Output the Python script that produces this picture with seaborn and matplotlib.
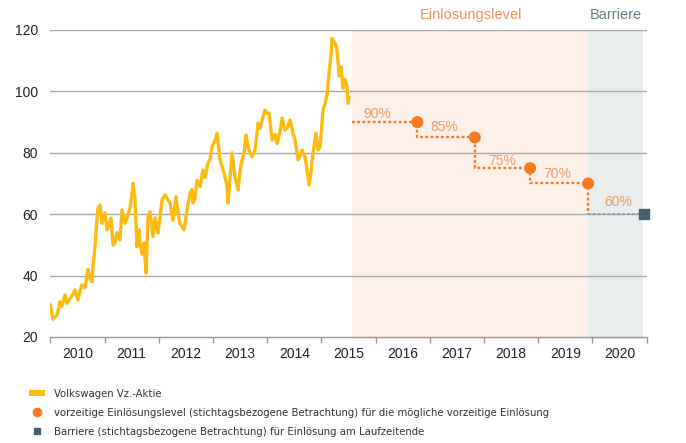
import numpy as np
import matplotlib
matplotlib.use("Agg")
import matplotlib.pyplot as plt
import seaborn as sns
from matplotlib.patches import Patch
from matplotlib.lines import Line2D
from matplotlib.transforms import blended_transform_factory
from matplotlib import font_manager

# Kursverlauf Volkswagen Vz.-Aktie (Jahresbruchteile, Kurs in EUR)
kurs_zeit = [
    2010.000, 2010.013, 2010.050, 2010.087, 2010.124, 2010.179, 2010.216, 2010.271, 2010.308, 2010.363,
    2010.419, 2010.456, 2010.511, 2010.548, 2010.585, 2010.640, 2010.695, 2010.732, 2010.769, 2010.788,
    2010.825, 2010.862, 2010.880, 2010.917, 2010.954, 2011.009, 2011.046, 2011.065, 2011.120, 2011.157,
    2011.194, 2011.231, 2011.286, 2011.323, 2011.379, 2011.434, 2011.470, 2011.507, 2011.526, 2011.563,
    2011.600, 2011.637, 2011.655, 2011.692, 2011.729, 2011.766, 2011.803, 2011.839, 2011.895, 2011.932,
    2011.987, 2012.024, 2012.061, 2012.116, 2012.172, 2012.209, 2012.264, 2012.319, 2012.356, 2012.393,
    2012.467, 2012.522, 2012.578, 2012.615, 2012.633, 2012.670, 2012.707, 2012.762, 2012.818, 2012.855,
    2012.910, 2012.947, 2012.984, 2013.039, 2013.076, 2013.131, 2013.187, 2013.224, 2013.261, 2013.279,
    2013.316, 2013.353, 2013.408, 2013.463, 2013.500, 2013.537, 2013.574, 2013.611, 2013.648, 2013.685,
    2013.722, 2013.777, 2013.832, 2013.869, 2013.906, 2013.962, 2013.999, 2014.035, 2014.091, 2014.146,
    2014.183, 2014.238, 2014.275, 2014.330, 2014.367, 2014.423, 2014.478, 2014.515, 2014.570, 2014.607,
    2014.644, 2014.699, 2014.718, 2014.773, 2014.810, 2014.847, 2014.902, 2014.939, 2014.976, 2015.031,
    2015.068, 2015.105, 2015.142, 2015.179, 2015.197, 2015.234, 2015.253, 2015.290, 2015.327, 2015.364,
    2015.400, 2015.437, 2015.474, 2015.493, 2015.511,
]
kurs_wert = [
    30.5, 29.0, 25.8, 26.6, 27.0, 31.5, 30.0, 33.7, 31.0, 32.5,
    34.0, 35.3, 32.0, 35.0, 37.0, 36.0, 42.0, 39.0, 38.0, 43.0,
    49.4, 58.8, 62.0, 63.0, 57.0, 60.4, 54.9, 55.5, 58.7, 50.0,
    50.6, 54.0, 51.6, 61.4, 57.0, 59.7, 62.0, 66.8, 70.0, 64.6,
    49.4, 54.9, 50.6, 47.0, 50.6, 40.8, 59.2, 60.8, 52.7, 58.8,
    53.9, 59.0, 64.6, 66.3, 64.6, 63.6, 58.0, 65.7, 60.0, 57.0,
    54.9, 61.4, 66.8, 68.0, 63.6, 65.3, 71.0, 69.0, 74.4, 72.0,
    76.7, 78.0, 82.0, 84.0, 86.4, 77.7, 74.4, 72.0, 69.0, 63.6,
    72.0, 80.0, 72.2, 67.9, 74.0, 77.7, 80.0, 85.8, 82.0, 80.0,
    78.7, 80.9, 89.7, 88.0, 90.7, 93.9, 92.9, 92.9, 84.2, 86.0,
    83.0, 87.0, 91.3, 87.4, 88.0, 90.7, 86.4, 84.2, 77.7, 79.0,
    80.9, 78.7, 76.7, 69.5, 74.0, 80.0, 86.4, 80.9, 82.0, 94.0,
    96.0, 99.0, 106.0, 112.0, 117.3, 116.0, 115.7, 113.5, 105.0, 108.0,
    101.0, 104.0, 101.5, 96.1, 98.0,
]

# Einlösungslevel und Barriere
start_level = 2015.57
stichtage = [2016.77, 2017.83, 2018.85, 2019.92]
level_wert = [90, 85, 75, 70]
level_text = ["90%", "85%", "75%", "70%"]
barriere_tag = 2020.95
barriere_wert = 60
barriere_text = "60%"
laufzeit_ende = 2020.93

jahre = list(range(2010, 2021))

GELB = "#FDBB12"
ORANGE = "#F47B20"
ORANGE_HELL = "#F29A62"
SCHIEFER = "#44606E"
GRAU_TXT = "#6B7E88"
PFIRSICH = "#FDF0E8"
HELLGRAU = "#E9EDEE"

sns.set_theme(style="white")
plt.rcParams["font.family"] = ["Liberation Sans", "DejaVu Sans"]

# schmale, aufrechte Schrift für die Legende, falls vorhanden
schmal = [f for f in font_manager.fontManager.ttflist
          if f.name == "DejaVu Sans" and f.stretch == "condensed"
          and f.style == "normal" and f.weight in (400, "normal", "regular", "book")]
if schmal:
    leg_prop = font_manager.FontProperties(fname=schmal[0].fname, size=8.1)
else:
    leg_prop = {"family": "Liberation Sans", "size": 8}

fig = plt.figure(figsize=(6.86, 4.43), dpi=100)
ax = fig.add_axes([0.0733, 0.2393, 0.8694, 0.6930])

# Hintergrundbereiche
ax.axvspan(start_level, stichtage[-1], ymin=-0.008, color=PFIRSICH, lw=0, zorder=0, clip_on=False)
ax.axvspan(stichtage[-1], laufzeit_ende, ymin=-0.008, color=HELLGRAU, lw=0, zorder=0, clip_on=False)

for y in [40, 60, 80, 100, 120]:
    ax.axhline(y, color="#A8A8A8", lw=1, zorder=1)

sns.lineplot(x=kurs_zeit, y=kurs_wert, ax=ax, color=GELB, lw=2.4, zorder=3)

# Treppenlinie der Einlösungslevel
tx = [start_level]
ty = [level_wert[0]]
for i, d in enumerate(stichtage):
    tx += [d]
    ty += [level_wert[i]]
    nxt = level_wert[i + 1] if i + 1 < len(level_wert) else barriere_wert
    tx += [d]
    ty += [nxt]
ax.plot(tx, ty, color=ORANGE, lw=1.7, ls=(0, (1.2, 1.0)), zorder=4)
ax.plot([stichtage[-1], barriere_tag], [barriere_wert, barriere_wert],
        color="#8C9CA5", lw=1.3, ls=(0, (1.5, 1.2)), zorder=4)

sns.scatterplot(x=stichtage, y=level_wert, ax=ax, color=ORANGE, s=75, edgecolor="none", zorder=5)
ax.plot([barriere_tag], [barriere_wert], marker="s", ms=7, color=SCHIEFER, clip_on=False, zorder=5)

# Prozentangaben
text_x = [2016.03, 2017.26, 2018.33, 2019.34]
text_y = [92.7, 88.4, 77.3, 73.1]
for x, y, t in zip(text_x, text_y, level_text):
    ax.text(x, y, t, color=ORANGE_HELL, fontsize=10, ha="center", va="center", zorder=6)
ax.text(2020.47, 64.0, barriere_text, color=ORANGE_HELL, fontsize=10, ha="center", va="center", zorder=6)

trans = blended_transform_factory(ax.transData, ax.transAxes)
ax.text((start_level + stichtage[-1]) / 2 + 0.02, 1.049, "Einlösungslevel", transform=trans,
        color="#F0905A", fontsize=10.5, ha="center", va="center")
ax.text((stichtage[-1] + laufzeit_ende) / 2, 1.049, "Barriere", transform=trans,
        color=GRAU_TXT, fontsize=10.5, ha="center", va="center")

# Achsen
ax.set_xlim(2010, 2021)
ax.set_ylim(20, 120)
ax.set_xticks(range(2010, 2022))
ax.set_xticklabels([])
ax.set_xticks([j + 0.5 for j in jahre], minor=True)
ax.set_xticklabels([str(j) for j in jahre], minor=True)
ax.tick_params(axis="x", which="major", bottom=True, length=4, width=1, color="#999999", direction="out")
ax.tick_params(axis="x", which="minor", bottom=True, length=0, pad=7, labelsize=10, labelcolor="#222222")
ax.set_yticks([20, 40, 60, 80, 100, 120])
ax.tick_params(axis="y", length=0, pad=9, labelsize=10, labelcolor="#222222")
for s in ["left", "top", "right"]:
    ax.spines[s].set_visible(False)
ax.spines["bottom"].set_color("#999999")
ax.spines["bottom"].set_linewidth(1)
ax.set_xlabel("")
ax.set_ylabel("")

# Legende
handles = [
    Patch(facecolor=GELB, edgecolor="none"),
    Line2D([], [], ls="none", marker="o", ms=6, color=ORANGE),
    Line2D([], [], ls="none", marker="s", ms=5, color=SCHIEFER),
]
labels = [
    "Volkswagen Vz.-Aktie",
    "vorzeitige Einlösungslevel (stichtagsbezogene Betrachtung) für die mögliche vorzeitige Einlösung",
    "Barriere (stichtagsbezogene Betrachtung) für Einlösung am Laufzeitende",
]
leg = fig.legend(handles, labels, loc="upper left", bbox_to_anchor=(0.043, 0.122),
                 frameon=False, borderpad=0, borderaxespad=0, handlelength=1.4,
                 handleheight=0.55, handletextpad=0.8, labelspacing=0.78, prop=leg_prop)
for t in leg.get_texts():
    t.set_color("#333333")

fig.savefig("out.png", dpi=100)
